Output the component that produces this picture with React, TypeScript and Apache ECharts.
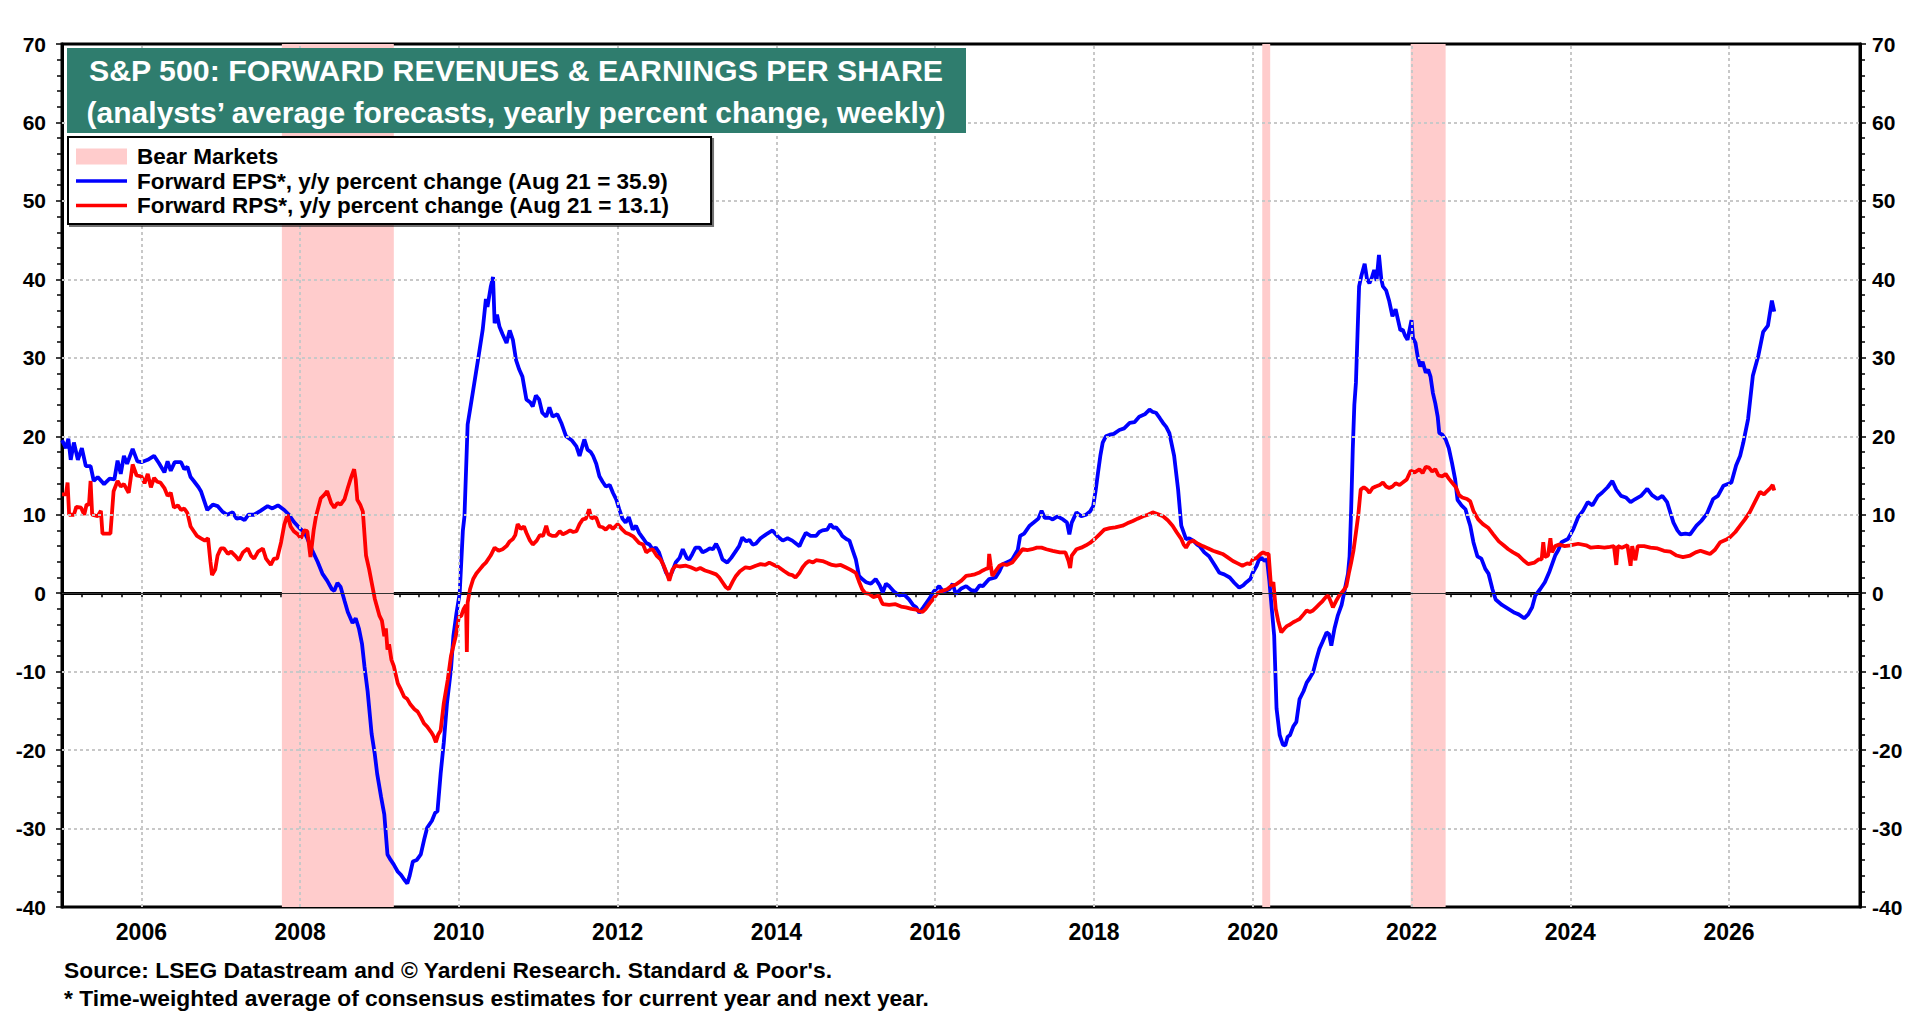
import { useEffect, useRef } from "react";
import * as echarts from "echarts";

const FONT = '"Liberation Sans", Arial, Helvetica, sans-serif';

// x axis labels / vertical grid lines (even years)
const yearLabels = [2006, 2008, 2010, 2012, 2014, 2016, 2018, 2020, 2022, 2024, 2026];
// horizontal dotted grid lines (0 is drawn solid)
const yGridValues = [-30, -20, -10, 10, 20, 30, 40, 50, 60];
// bear market periods (decimal years)
const bearMarkets = [
  [2007.77, 2009.18],
  [2020.12, 2020.22],
  [2021.99, 2022.43],
];

const bearName = "Bear Markets";
const epsName = "Forward EPS*, y/y percent change (Aug 21 = 35.9)";
const rpsName = "Forward RPS*, y/y percent change (Aug 21 = 13.1)";

// Forward EPS, y/y % change (blue)
const epsData = [
  [2005.0, 19.5], [2005.05, 18.5], [2005.08, 19.7], [2005.11, 17], [2005.15, 19.2], [2005.2, 17],
  [2005.25, 18.5], [2005.3, 16.2], [2005.36, 16.2], [2005.4, 14.3], [2005.45, 14.8], [2005.53, 13.9],
  [2005.6, 14.6], [2005.66, 14.5], [2005.7, 16.9], [2005.74, 15.2], [2005.78, 17.5], [2005.82, 16.5],
  [2005.89, 18.4], [2005.95, 16.8], [2006.0, 16.7], [2006.08, 17], [2006.16, 17.5], [2006.22, 16.6],
  [2006.29, 15.4], [2006.33, 16.8], [2006.37, 15.6], [2006.42, 16.7], [2006.5, 16.7], [2006.54, 15.8],
  [2006.58, 16.1], [2006.62, 14.8], [2006.66, 14.3], [2006.72, 13.5], [2006.75, 13], [2006.8, 11.5],
  [2006.83, 10.6], [2006.9, 11.3], [2006.96, 11.1], [2007.02, 10.4], [2007.08, 10], [2007.15, 10.3],
  [2007.2, 9.5], [2007.25, 9.6], [2007.3, 9.3], [2007.35, 10], [2007.42, 10], [2007.5, 10.5],
  [2007.59, 11.1], [2007.65, 10.8], [2007.72, 11.2], [2007.8, 10.6], [2007.86, 10], [2007.92, 9.1],
  [2008.0, 8.2], [2008.05, 7.8], [2008.09, 7], [2008.15, 5.5], [2008.22, 4], [2008.28, 2.5],
  [2008.34, 1.6], [2008.4, 0.5], [2008.43, 0.3], [2008.47, 1.3], [2008.51, 0.8], [2008.56, -1],
  [2008.6, -2.4], [2008.66, -3.8], [2008.7, -3.2], [2008.74, -4.5], [2008.78, -6.5], [2008.81, -9.3],
  [2008.85, -12.5], [2008.9, -17.9], [2008.94, -20.5], [2008.97, -23], [2009.02, -26], [2009.06, -28.2],
  [2009.1, -33.3], [2009.14, -34], [2009.18, -34.6], [2009.23, -35.5], [2009.27, -35.9], [2009.31, -36.5],
  [2009.35, -37], [2009.38, -36], [2009.42, -34.2], [2009.47, -34], [2009.52, -33.3], [2009.56, -31.5],
  [2009.6, -29.9], [2009.66, -29], [2009.7, -28], [2009.73, -27.8], [2009.77, -23], [2009.81, -19],
  [2009.85, -14], [2009.9, -9.7], [2009.93, -5.5], [2009.97, -2.5], [2010.01, 0], [2010.05, 8],
  [2010.07, 9.8], [2010.11, 21.5], [2010.15, 24], [2010.18, 25.9], [2010.24, 29.7], [2010.3, 33.6],
  [2010.34, 37.5], [2010.36, 36.5], [2010.4, 39], [2010.43, 40.3], [2010.45, 34.4], [2010.48, 35.5],
  [2010.51, 34], [2010.55, 33], [2010.6, 31.9], [2010.64, 33.5], [2010.68, 32.3], [2010.72, 29.7],
  [2010.76, 28.5], [2010.8, 27.6], [2010.85, 24.7], [2010.9, 24.3], [2010.93, 23.8], [2010.97, 25.2],
  [2011.01, 24.7], [2011.05, 23], [2011.1, 22.5], [2011.14, 23.7], [2011.18, 22.5], [2011.24, 22.8],
  [2011.29, 21.7], [2011.35, 20], [2011.42, 19.5], [2011.48, 18.7], [2011.52, 17.5], [2011.58, 19.6],
  [2011.62, 18.3], [2011.66, 18], [2011.69, 17.5], [2011.73, 16.5], [2011.77, 14.9], [2011.81, 14.2],
  [2011.85, 13.6], [2011.9, 13.8], [2011.94, 12.8], [2011.98, 12], [2012.02, 10.7], [2012.06, 9.5],
  [2012.1, 9], [2012.14, 9.7], [2012.19, 8.1], [2012.23, 8.6], [2012.27, 7.7], [2012.32, 7],
  [2012.36, 6.4], [2012.4, 6.2], [2012.44, 5.6], [2012.48, 5.8], [2012.52, 5.2], [2012.56, 4],
  [2012.61, 2.6], [2012.65, 2], [2012.69, 2.8], [2012.73, 3.9], [2012.78, 4.5], [2012.82, 5.6],
  [2012.87, 4.5], [2012.9, 4.3], [2012.94, 5], [2012.98, 5.8], [2013.03, 5.8], [2013.07, 5.2],
  [2013.11, 5.4], [2013.16, 5.7], [2013.2, 5.6], [2013.24, 6.3], [2013.28, 5.5], [2013.32, 4.3],
  [2013.38, 3.9], [2013.43, 4.5], [2013.49, 5.4], [2013.53, 6], [2013.57, 7.1], [2013.62, 6.6],
  [2013.66, 6.8], [2013.7, 6.2], [2013.74, 6.3], [2013.8, 7], [2013.87, 7.5], [2013.95, 8],
  [2014.02, 7.2], [2014.08, 6.7], [2014.14, 7], [2014.2, 6.7], [2014.25, 6.3], [2014.29, 6],
  [2014.33, 6.9], [2014.37, 7.7], [2014.43, 7.3], [2014.5, 7.3], [2014.54, 7.8], [2014.58, 8],
  [2014.64, 8.1], [2014.68, 8.8], [2014.72, 8.3], [2014.75, 8.4], [2014.8, 7.8], [2014.83, 7.3],
  [2014.88, 6.9], [2014.92, 6.7], [2014.96, 5.5], [2015.0, 4.3], [2015.04, 2.2], [2015.08, 1.8],
  [2015.13, 1.4], [2015.19, 1.2], [2015.25, 1.8], [2015.3, 1], [2015.34, 0.1], [2015.38, 1.2],
  [2015.42, 0.9], [2015.48, 0.2], [2015.55, -0.3], [2015.6, -0.1], [2015.67, -0.8], [2015.72, -1.5],
  [2015.76, -1.8], [2015.8, -2.5], [2015.85, -1.8], [2015.92, -0.8], [2015.98, 0.2], [2016.05, 0.9],
  [2016.1, 0.2], [2016.18, 0.5], [2016.22, 1.2], [2016.26, -0.1], [2016.33, 0.6], [2016.39, 0.9],
  [2016.45, 0.4], [2016.51, 0.3], [2016.56, 1], [2016.6, 0.9], [2016.68, 1.8], [2016.76, 2],
  [2016.81, 2.8], [2016.85, 3.7], [2016.94, 4.1], [2016.97, 4.3], [2017.04, 5.5], [2017.07, 7.3],
  [2017.12, 7.6], [2017.19, 8.6], [2017.24, 9], [2017.3, 9.5], [2017.34, 10.5], [2017.38, 9.6],
  [2017.44, 9.6], [2017.48, 9.4], [2017.54, 9.8], [2017.61, 9.4], [2017.66, 9], [2017.69, 7.5],
  [2017.72, 9], [2017.78, 10.3], [2017.84, 9.8], [2017.9, 10], [2017.95, 10.4], [2017.99, 11.1],
  [2018.02, 13], [2018.05, 15.3], [2018.08, 17.5], [2018.11, 19.2], [2018.15, 20], [2018.2, 20.2],
  [2018.25, 20.3], [2018.32, 20.8], [2018.38, 21], [2018.45, 21.7], [2018.51, 21.8], [2018.57, 22.5],
  [2018.64, 22.8], [2018.7, 23.4], [2018.74, 23.1], [2018.78, 23], [2018.83, 22.3], [2018.87, 21.7],
  [2018.91, 21.2], [2018.95, 20.4], [2019.01, 17.5], [2019.06, 13.2], [2019.1, 8.6], [2019.16, 6.9],
  [2019.2, 7], [2019.25, 6.7], [2019.3, 6.2], [2019.33, 6], [2019.39, 5.2], [2019.45, 4.7],
  [2019.52, 3.6], [2019.58, 2.6], [2019.64, 2.4], [2019.71, 2], [2019.77, 1.3], [2019.83, 0.7],
  [2019.88, 1], [2019.92, 1.4], [2019.97, 1.8], [2020.0, 2.6], [2020.05, 3.5], [2020.08, 4.3],
  [2020.11, 4.5], [2020.15, 4.1], [2020.18, 4.3], [2020.21, 1.5], [2020.24, -2], [2020.27, -5.4],
  [2020.3, -14.7], [2020.34, -18.1], [2020.38, -19.3], [2020.41, -19.4], [2020.44, -18.3], [2020.47, -18.1],
  [2020.51, -17], [2020.55, -16.4], [2020.59, -13.5], [2020.64, -12.5], [2020.68, -11.4], [2020.72, -10.8],
  [2020.76, -10.1], [2020.8, -8.5], [2020.84, -7.1], [2020.88, -6.2], [2020.93, -5], [2020.96, -5.2],
  [2020.99, -6.7], [2021.03, -4.5], [2021.07, -2.9], [2021.12, -1.5], [2021.16, 0.5], [2021.2, 2.5],
  [2021.22, 4.7], [2021.24, 10.7], [2021.26, 18.3], [2021.28, 24], [2021.3, 26.8], [2021.32, 33],
  [2021.34, 39.1], [2021.37, 40.5], [2021.41, 42], [2021.44, 40], [2021.47, 39.5], [2021.5, 40.2],
  [2021.53, 41.2], [2021.56, 39.8], [2021.59, 43.1], [2021.62, 40], [2021.64, 39.1], [2021.68, 38.6],
  [2021.72, 37.2], [2021.76, 35.3], [2021.8, 36.2], [2021.82, 35.3], [2021.86, 33.5], [2021.89, 33.6],
  [2021.92, 32.8], [2021.95, 32.3], [2022.0, 34.8], [2022.02, 32.5], [2022.05, 31.9], [2022.08, 30],
  [2022.11, 28.9], [2022.14, 29.5], [2022.18, 28.1], [2022.21, 28.5], [2022.24, 27.6], [2022.27, 25.5],
  [2022.3, 24.2], [2022.33, 22.5], [2022.35, 20.4], [2022.39, 20.2], [2022.43, 19.6], [2022.47, 18.5],
  [2022.51, 16.6], [2022.55, 14.5], [2022.58, 11.9], [2022.63, 11.2], [2022.68, 10.7], [2022.71, 9.6],
  [2022.74, 8.6], [2022.78, 6.5], [2022.83, 4.7], [2022.88, 4.4], [2022.93, 3.1], [2022.97, 2.5],
  [2023.02, 0.5], [2023.06, -0.8], [2023.14, -1.5], [2023.22, -2], [2023.3, -2.5], [2023.35, -2.7],
  [2023.42, -3.2], [2023.47, -2.7], [2023.52, -1.8], [2023.56, -0.3], [2023.62, 0.5], [2023.68, 1.4],
  [2023.74, 2.8], [2023.81, 4.8], [2023.85, 5.5], [2023.89, 6.5], [2023.97, 6.9], [2024.04, 8.2],
  [2024.1, 9.7], [2024.16, 10.5], [2024.22, 11.6], [2024.28, 11.2], [2024.35, 12.4], [2024.4, 12.8],
  [2024.47, 13.5], [2024.53, 14.3], [2024.58, 13.2], [2024.64, 12.4], [2024.7, 12.2], [2024.76, 11.6],
  [2024.82, 12], [2024.89, 12.4], [2024.97, 13.3], [2025.03, 12.5], [2025.1, 12], [2025.16, 12.4],
  [2025.22, 11.6], [2025.3, 9], [2025.35, 8], [2025.39, 7.5], [2025.45, 7.6], [2025.51, 7.5],
  [2025.59, 8.6], [2025.65, 9.2], [2025.72, 10.1], [2025.8, 12], [2025.86, 12.4], [2025.93, 13.7],
  [2026.03, 14.1], [2026.09, 16.3], [2026.14, 17.5], [2026.18, 19.2], [2026.24, 22.2], [2026.3, 27.7],
  [2026.37, 30.3], [2026.43, 33.3], [2026.49, 34.1], [2026.54, 37.3], [2026.57, 35.9],
];

// Forward RPS, y/y % change (red)
const rpsData = [
  [2005.0, 12.6], [2005.05, 12.6], [2005.07, 14.1], [2005.09, 10], [2005.15, 10], [2005.18, 11],
  [2005.24, 10.9], [2005.28, 10], [2005.31, 11.3], [2005.34, 11.3], [2005.36, 14.3], [2005.38, 10],
  [2005.45, 9.8], [2005.49, 10.5], [2005.51, 7.6], [2005.61, 7.6], [2005.65, 13], [2005.7, 14.3],
  [2005.74, 13.6], [2005.78, 13.9], [2005.84, 12.8], [2005.89, 16.4], [2005.94, 15], [2006.0, 14.9],
  [2006.04, 14], [2006.08, 15.2], [2006.12, 13.5], [2006.16, 14.7], [2006.2, 14.2], [2006.24, 14.1],
  [2006.29, 13.4], [2006.33, 12.4], [2006.37, 12.8], [2006.41, 10.9], [2006.46, 11.2], [2006.5, 10.6],
  [2006.54, 10.8], [2006.58, 10.2], [2006.62, 8.5], [2006.66, 7.9], [2006.7, 7.3], [2006.75, 7],
  [2006.8, 6.7], [2006.84, 7], [2006.87, 4], [2006.89, 2.3], [2006.93, 3], [2006.96, 4.8],
  [2007.0, 5.7], [2007.04, 5.7], [2007.09, 5], [2007.13, 5.3], [2007.18, 4.8], [2007.23, 4.2],
  [2007.28, 5.2], [2007.34, 5.7], [2007.38, 4.8], [2007.42, 4.4], [2007.47, 5.3], [2007.53, 5.7],
  [2007.57, 4.4], [2007.63, 3.6], [2007.67, 4.4], [2007.71, 4.4], [2007.76, 6.5], [2007.8, 8.7],
  [2007.84, 10], [2007.88, 8.5], [2007.92, 7.9], [2007.97, 7.5], [2008.01, 7], [2008.05, 8],
  [2008.09, 7.9], [2008.13, 4.6], [2008.17, 8], [2008.2, 9.8], [2008.26, 12.1], [2008.3, 12.5],
  [2008.34, 13], [2008.39, 11.5], [2008.43, 10.9], [2008.47, 11.5], [2008.51, 11.3], [2008.56, 12],
  [2008.6, 13.4], [2008.64, 14.7], [2008.68, 15.8], [2008.7, 14.5], [2008.72, 11.9], [2008.76, 11.2],
  [2008.79, 10.4], [2008.83, 4.8], [2008.87, 3], [2008.9, 1.4], [2008.94, -0.7], [2009.0, -2.9],
  [2009.03, -3.5], [2009.06, -5.5], [2009.08, -4.5], [2009.1, -7.2], [2009.12, -6.5], [2009.15, -8.5],
  [2009.18, -9.3], [2009.23, -11.5], [2009.27, -12.3], [2009.31, -13.2], [2009.35, -13.5], [2009.39, -14.2],
  [2009.44, -14.8], [2009.48, -15.1], [2009.52, -15.8], [2009.56, -16.6], [2009.6, -17], [2009.65, -17.7],
  [2009.68, -18.2], [2009.71, -19], [2009.74, -18], [2009.77, -17.5], [2009.81, -14], [2009.86, -11],
  [2009.9, -8], [2009.96, -5.5], [2010.0, -3], [2010.03, -2.9], [2010.06, -2], [2010.09, -1.5],
  [2010.1, -7.5], [2010.11, -1.2], [2010.14, 0.5], [2010.18, 1.8], [2010.22, 2.5], [2010.26, 3],
  [2010.3, 3.5], [2010.34, 3.9], [2010.4, 4.8], [2010.45, 5.8], [2010.5, 5.4], [2010.55, 5.6],
  [2010.6, 6], [2010.64, 6.6], [2010.68, 6.9], [2010.71, 7.4], [2010.74, 8.8], [2010.78, 8.2],
  [2010.82, 8.5], [2010.85, 7.7], [2010.89, 6.8], [2010.93, 6.2], [2010.98, 6.7], [2011.02, 7.4],
  [2011.06, 7.3], [2011.1, 8.6], [2011.13, 7.5], [2011.18, 7.3], [2011.22, 7.3], [2011.27, 7.9],
  [2011.31, 7.5], [2011.35, 7.7], [2011.4, 8], [2011.44, 7.8], [2011.48, 7.9], [2011.52, 8.8],
  [2011.56, 9.4], [2011.6, 9.5], [2011.64, 10.7], [2011.67, 9.5], [2011.7, 9.7], [2011.73, 9.6],
  [2011.77, 8.5], [2011.81, 8.4], [2011.85, 8.1], [2011.9, 8.6], [2011.94, 8.2], [2012.0, 8.8],
  [2012.05, 8.2], [2012.1, 7.7], [2012.15, 7.5], [2012.2, 7.2], [2012.27, 6.4], [2012.32, 6.2],
  [2012.36, 5.2], [2012.4, 5.5], [2012.44, 5.6], [2012.49, 4.8], [2012.54, 4.3], [2012.58, 3.5],
  [2012.62, 2.5], [2012.65, 1.6], [2012.69, 3], [2012.73, 3.5], [2012.78, 3.4], [2012.86, 3.5],
  [2012.92, 3.3], [2012.99, 3], [2013.04, 3.2], [2013.1, 2.9], [2013.16, 2.7], [2013.24, 2.4],
  [2013.28, 2], [2013.32, 1.4], [2013.36, 0.8], [2013.4, 0.5], [2013.45, 1.5], [2013.49, 2.2],
  [2013.54, 2.8], [2013.61, 3.3], [2013.67, 3.2], [2013.74, 3.5], [2013.8, 3.7], [2013.86, 3.6],
  [2013.91, 3.9], [2013.97, 3.6], [2014.03, 3.3], [2014.1, 2.8], [2014.16, 2.4], [2014.2, 2.3],
  [2014.24, 2], [2014.29, 2.6], [2014.33, 3.3], [2014.37, 3.8], [2014.41, 4.1], [2014.46, 3.9],
  [2014.5, 4.2], [2014.58, 4.1], [2014.65, 3.8], [2014.7, 3.6], [2014.75, 3.5], [2014.81, 3.6],
  [2014.87, 3.3], [2014.93, 3], [2015.0, 2.6], [2015.04, 1.5], [2015.08, 0.5], [2015.12, 0],
  [2015.17, -0.1], [2015.22, -0.5], [2015.29, -0.3], [2015.32, -1], [2015.34, -1.4], [2015.42, -1.5],
  [2015.5, -1.4], [2015.57, -1.7], [2015.63, -1.8], [2015.7, -2], [2015.76, -2.1], [2015.8, -2.3],
  [2015.84, -2.4], [2015.88, -2], [2015.93, -1.3], [2015.97, -0.8], [2016.03, 0], [2016.09, 0.3],
  [2016.15, 0.5], [2016.2, 0.9], [2016.26, 1.1], [2016.33, 1.6], [2016.39, 2.2], [2016.45, 2.3],
  [2016.5, 2.4], [2016.55, 2.6], [2016.6, 2.9], [2016.64, 3.1], [2016.67, 3.2], [2016.68, 5],
  [2016.7, 3.5], [2016.72, 2.2], [2016.76, 2.8], [2016.81, 3.5], [2016.85, 3.7], [2016.9, 3.6],
  [2016.97, 3.9], [2017.04, 4.8], [2017.1, 5.6], [2017.16, 5.5], [2017.22, 5.6], [2017.28, 5.8],
  [2017.34, 5.8], [2017.4, 5.6], [2017.48, 5.4], [2017.57, 5.2], [2017.64, 5.2], [2017.68, 4.1],
  [2017.7, 3.2], [2017.72, 4.8], [2017.78, 5.6], [2017.84, 5.8], [2017.9, 6.1], [2017.95, 6.4],
  [2018.02, 7], [2018.07, 7.5], [2018.13, 8.1], [2018.2, 8.3], [2018.27, 8.4], [2018.36, 8.6],
  [2018.42, 8.9], [2018.49, 9.2], [2018.55, 9.5], [2018.62, 9.8], [2018.68, 10], [2018.74, 10.3],
  [2018.8, 10.1], [2018.87, 9.8], [2018.93, 9.3], [2018.99, 8.6], [2019.04, 7.8], [2019.1, 6.9],
  [2019.13, 6.2], [2019.16, 5.8], [2019.2, 6.5], [2019.25, 6.7], [2019.31, 6.3], [2019.37, 6],
  [2019.44, 5.7], [2019.5, 5.4], [2019.56, 5.2], [2019.62, 5], [2019.68, 4.6], [2019.75, 4.1],
  [2019.81, 3.8], [2019.87, 3.5], [2019.93, 3.8], [2019.97, 3.7], [2020.0, 4.3], [2020.05, 4.5],
  [2020.1, 5], [2020.13, 5.2], [2020.17, 5], [2020.2, 5], [2020.23, 0.9], [2020.26, 1.4],
  [2020.29, -2], [2020.32, -3.5], [2020.36, -5], [2020.4, -4.5], [2020.43, -4.2], [2020.47, -4],
  [2020.51, -3.7], [2020.55, -3.5], [2020.59, -3.3], [2020.64, -2.7], [2020.68, -2.2], [2020.72, -2.4],
  [2020.76, -2.2], [2020.8, -1.8], [2020.84, -1.4], [2020.88, -1], [2020.92, -0.5], [2020.95, -0.3],
  [2020.98, -1], [2021.01, -1.8], [2021.05, -1], [2021.09, -0.3], [2021.14, 0.3], [2021.18, 0.9],
  [2021.21, 2.5], [2021.24, 3.9], [2021.27, 5.5], [2021.3, 7.7], [2021.33, 10], [2021.36, 13.2],
  [2021.4, 13.5], [2021.44, 13.2], [2021.47, 12.8], [2021.51, 13.4], [2021.55, 13.6], [2021.6, 13.8],
  [2021.64, 14.1], [2021.68, 13.6], [2021.72, 13.4], [2021.76, 13.6], [2021.8, 14], [2021.85, 13.8],
  [2021.89, 14.1], [2021.94, 14.5], [2021.99, 15.6], [2022.04, 15.4], [2022.1, 15.8], [2022.14, 15.3],
  [2022.18, 16.1], [2022.22, 16], [2022.26, 15.5], [2022.3, 15.8], [2022.34, 15], [2022.39, 14.9],
  [2022.43, 15.2], [2022.47, 14.6], [2022.51, 14.1], [2022.56, 13.5], [2022.6, 12.5], [2022.64, 12.2],
  [2022.7, 12], [2022.74, 11.7], [2022.78, 10.5], [2022.84, 9.4], [2022.9, 8.8], [2022.97, 8.3],
  [2023.03, 7.5], [2023.1, 6.6], [2023.16, 6.1], [2023.22, 5.6], [2023.28, 5.2], [2023.35, 4.8],
  [2023.41, 4.2], [2023.47, 3.7], [2023.55, 3.9], [2023.6, 4.3], [2023.64, 4.3], [2023.66, 6.5],
  [2023.68, 4.6], [2023.72, 4.8], [2023.75, 7], [2023.77, 5.2], [2023.81, 6], [2023.86, 6.2],
  [2023.93, 6], [2024.0, 6.1], [2024.1, 6.3], [2024.2, 6.1], [2024.26, 5.8], [2024.35, 5.9],
  [2024.43, 5.8], [2024.5, 5.9], [2024.55, 6], [2024.58, 3.6], [2024.6, 6], [2024.65, 5.8],
  [2024.72, 6.1], [2024.76, 3.5], [2024.78, 6], [2024.82, 4.2], [2024.85, 6], [2024.93, 6],
  [2025.01, 5.8], [2025.1, 5.7], [2025.18, 5.4], [2025.26, 5.3], [2025.34, 4.8], [2025.42, 4.6],
  [2025.51, 4.8], [2025.58, 5.2], [2025.64, 5.4], [2025.7, 5.2], [2025.76, 5], [2025.82, 5.5],
  [2025.89, 6.5], [2025.96, 6.8], [2026.01, 7.1], [2026.08, 7.8], [2026.14, 8.6], [2026.2, 9.4],
  [2026.26, 10.3], [2026.32, 11.5], [2026.39, 12.9], [2026.44, 12.6], [2026.47, 12.9], [2026.52, 13.4],
  [2026.55, 13.8], [2026.57, 13.1],
];

const titleLine1 = "S&P 500: FORWARD REVENUES & EARNINGS PER SHARE";
const titleLine2 = "(analysts\u2019 average forecasts, yearly percent change, weekly)";
const sourceText = "Source: LSEG Datastream and \u00A9 Yardeni Research. Standard & Poor's.";
const footnoteText = "* Time-weighted average of consensus estimates for current year and next year.";

// thin bar used as the legend swatch for the two lines
const lineIcon = "path://M0,0H100V7H0Z";

export default function App(): JSX.Element {
  const chartRef = useRef<HTMLDivElement>(null);

  useEffect(() => {
    const chart = echarts.init(chartRef.current, null, { renderer: "svg" });

    const yAxisBase = {
      type: "value",
      min: -40,
      max: 70,
      interval: 10,
      axisLine: { show: true, lineStyle: { color: "#000", width: 3 } },
      axisTick: { show: true, inside: false, length: 6, lineStyle: { color: "#000", width: 1.5 } },
      minorTick: { show: true, splitNumber: 5, length: 5, lineStyle: { color: "#000", width: 1.5 } },
      splitLine: { show: false },
      axisLabel: { color: "#000", fontFamily: FONT, fontWeight: "bold", fontSize: 21 },
    };

    const option = {
      animation: false,
      backgroundColor: "#fff",
      grid: {
        left: 62,
        right: 60,
        top: 44,
        bottom: 113,
        show: true,
        borderColor: "#000",
        borderWidth: 3,
        backgroundColor: "transparent",
      },
      xAxis: {
        type: "value",
        min: 2005,
        max: 2027.65,
        interval: 0.25,
        axisLine: { show: true, lineStyle: { color: "#000", width: 3 } },
        axisTick: { show: true, inside: false, length: 4, lineStyle: { color: "#000", width: 1.5 } },
        splitLine: { show: false },
        axisLabel: {
          color: "#000",
          fontFamily: FONT,
          fontWeight: "bold",
          fontSize: 23,
          margin: 13,
          formatter: (v: number) => (yearLabels.includes(v) ? String(v) : ""),
        },
      },
      yAxis: [
        { ...yAxisBase, position: "left", axisLabel: { ...yAxisBase.axisLabel, margin: 16 } },
        { ...yAxisBase, position: "right", axisLabel: { ...yAxisBase.axisLabel, margin: 12 } },
      ],
      legend: {
        left: 68,
        top: 137,
        orient: "vertical",
        z: 20,
        padding: [8, 42, 7, 8],
        itemGap: 1.5,
        itemWidth: 51,
        itemHeight: 16,
        backgroundColor: "#fff",
        borderColor: "#000",
        borderWidth: 2,
        shadowColor: "rgba(0,0,0,0.55)",
        shadowOffsetX: 2,
        shadowOffsetY: 2,
        shadowBlur: 0,
        selectedMode: false,
        textStyle: {
          color: "#000",
          fontFamily: FONT,
          fontWeight: "bold",
          fontSize: 22.5,
          padding: [0, 0, 0, 5],
        },
        data: [
          { name: bearName, icon: "rect" },
          { name: epsName, icon: lineIcon },
          { name: rpsName, icon: lineIcon },
        ],
      },
      graphic: [
        {
          type: "rect",
          z: 100,
          shape: { x: 67, y: 48, width: 899, height: 85 },
          style: { fill: "#2F7D6E" },
        },
        {
          type: "text",
          z: 101,
          x: 516,
          y: 70,
          style: {
            text: titleLine1,
            fill: "#fff",
            font: `bold 30.3px ${FONT}`,
            align: "center",
            verticalAlign: "middle",
          },
        },
        {
          type: "text",
          z: 101,
          x: 516,
          y: 112,
          style: {
            text: titleLine2,
            fill: "#fff",
            font: `bold 30px ${FONT}`,
            align: "center",
            verticalAlign: "middle",
          },
        },
        {
          type: "text",
          z: 101,
          x: 64,
          y: 970,
          style: {
            text: sourceText,
            fill: "#000",
            font: `bold 22.8px ${FONT}`,
            align: "left",
            verticalAlign: "middle",
          },
        },
        {
          type: "text",
          z: 101,
          x: 64,
          y: 998,
          style: {
            text: footnoteText,
            fill: "#000",
            font: `bold 22.8px ${FONT}`,
            align: "left",
            verticalAlign: "middle",
          },
        },
      ],
      series: [
        {
          name: bearName,
          type: "line",
          data: [],
          z: 1,
          color: "#FFCCCC",
          itemStyle: { color: "#FFCCCC" },
          markArea: {
            silent: true,
            itemStyle: { color: "#FFCCCC" },
            data: bearMarkets.map(([s, e]) => [{ xAxis: s }, { xAxis: e }]),
          },
        },
        {
          name: "gridlines",
          type: "line",
          data: [],
          z: 2,
          markLine: {
            silent: true,
            symbol: ["none", "none"],
            label: { show: false },
            lineStyle: { color: "#c8c8c8", type: [3, 3], width: 2 },
            data: [
              ...yearLabels.map((y) => ({ xAxis: y })),
              ...yGridValues.map((v) => ({ yAxis: v })),
              { yAxis: 0, lineStyle: { color: "#333", type: "solid", width: 1.2 } },
            ],
          },
        },
        {
          name: epsName,
          type: "line",
          data: epsData,
          z: 3,
          showSymbol: false,
          symbol: "none",
          color: "#0000FF",
          lineStyle: { color: "#0000FF", width: 3.8 },
        },
        {
          name: rpsName,
          type: "line",
          data: rpsData,
          z: 4,
          showSymbol: false,
          symbol: "none",
          color: "#FF0000",
          lineStyle: { color: "#FF0000", width: 3.8 },
        },
      ],
    };

    chart.setOption(option);
    return () => {
      chart.dispose();
    };
  }, []);

  return (
    <div
      ref={chartRef}
      style={{ position: "fixed", left: 0, top: 0, width: "1920px", height: "1020px" }}
    ></div>
  );
}
